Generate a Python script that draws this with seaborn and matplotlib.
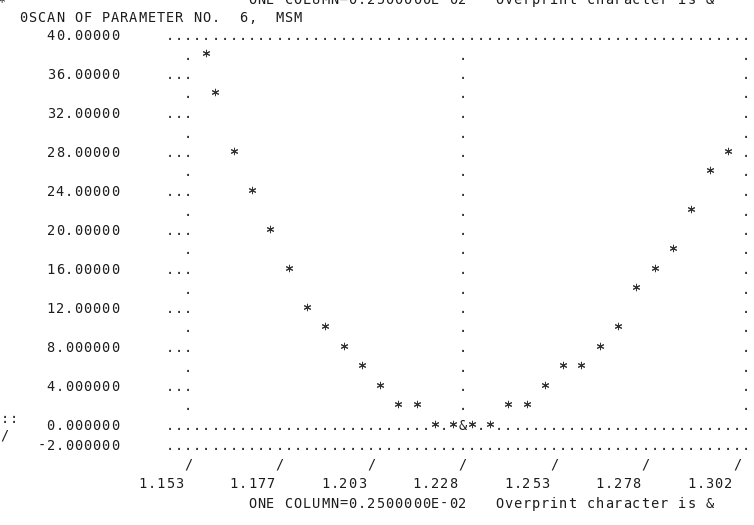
import numpy as np
import pandas as pd
import matplotlib
matplotlib.use('Agg')
import matplotlib.pyplot as plt
import seaborn as sns

# scan of parameter 6 (MSM): parameter value vs function value
scan_x = [1.158, 1.1605, 1.1655, 1.1705, 1.1755, 1.1805, 1.1855, 1.1905, 1.1955,
          1.2005, 1.2055, 1.2105, 1.2155, 1.2205, 1.2255, 1.228, 1.228, 1.2305,
          1.2355, 1.2405, 1.2455, 1.2505, 1.2555, 1.2605, 1.2655, 1.2705, 1.2755,
          1.2805, 1.2855, 1.2905, 1.2955, 1.3005]
scan_y = [38, 34, 28, 24, 20, 16, 12, 10, 8, 6, 4, 2, 2, 0, 0, 0, 0, 0,
          0, 2, 2, 4, 6, 6, 8, 10, 14, 16, 18, 22, 26, 28]

y_labels = ['40.00000', '36.00000', '32.00000', '28.00000', '24.00000', '20.00000',
            '16.00000', '12.00000', '8.000000', '4.000000', '0.000000', '-2.000000']
x_tick_labels = ['1.153', '1.177', '1.203', '1.228', '1.253', '1.278', '1.302']

title = '0SCAN OF PARAMETER NO.  6,  MSM'
footer = 'ONE COLUMN=0.2500000E-02   Overprint character is &'

# printer grid geometry
X0, DX = 1.153, 0.0025      # value of column 0, one column
CW, RH = 9.15, 19.5         # pixel width of a column, height of a row
C0_PX, R0_PX = 188, 40      # pixel of column 0, baseline of row 0
STAR_UP = 6.5               # star centre sits above the baseline
W, H = 754, 525
FS = 9.8
INK = '#1c1c1c'

sns.set_style('white')
plt.rcParams['font.family'] = ['DejaVu Sans Mono', 'DejaVu Sans']

fig = plt.figure(figsize=(W / 100, H / 100), dpi=100)
ax = fig.add_axes([0, 0, 1, 1])
ax.set_xlim(X0 - C0_PX / CW * DX, X0 + (W - C0_PX) / CW * DX)
# data y maps to the centre of the printed row (2 units per row)
top_v = 40 + (R0_PX - STAR_UP) / (RH / 2)
ax.set_ylim(top_v - H / (RH / 2), top_v)
ax.axis('off')

base_off = STAR_UP / (RH / 2)


def col_x(c):
    return X0 + DX * c


def row_y(r):
    return 40 - 2 * r - base_off


def put(col, row, s):
    for i, ch in enumerate(s):
        if ch != ' ':
            ax.text(col_x(col + i), row_y(row), ch, ha='center', va='baseline',
                    fontsize=FS, color=INK)


df = pd.DataFrame({'x': scan_x, 'y': scan_y})
df['col'] = np.round((df['x'] - X0) / DX).astype(int)
df['row'] = np.round((40 - df['y']) / 2).astype(int)
df['dup'] = df.duplicated(['col', 'row'], keep=False)
taken = set(zip(df['col'], df['row']))

# frame of dots
n_rows = 22
for r in range(n_rows):
    if r in (0, 20, 21):
        cols = range(-2, 62)
    else:
        cols = [0, 30, 61] + ([-2, -1] if r % 2 == 0 else [])
    for c in cols:
        if (c, r) not in taken:
            put(c, r, '.')

# y labels
for i, lab in enumerate(y_labels):
    r = 2 * i if i < 11 else 21
    put(-8 - len(lab) + 1, r, lab)

# x ticks
for i, lab in enumerate(x_tick_labels):
    put(10 * i, 22, '/')
    put(10 * i - len(lab), 23, lab)

put(-18, -0.92, title)
put(7, 24, footer)
put(7, -1.85, footer)
put(-20.3, -1.75, '*')
# bits of the neighbouring page on the left edge
put(-20, 19.62, '::')
put(-20.1, 20.5, '/')

# points
single = df[~df['dup']]
sns.scatterplot(data=single, x='x', y='y', marker=(6, 2, 0), s=22,
                color='#333333', linewidth=0.75, ax=ax, legend=False)
for _, p in df[df['dup']].drop_duplicates(['col', 'row']).iterrows():
    ax.text(p['x'], p['y'] - base_off, '&', ha='center', va='baseline',
            fontsize=FS, color=INK)

fig.savefig('out.png', dpi=100, facecolor='white')
plt.close()
